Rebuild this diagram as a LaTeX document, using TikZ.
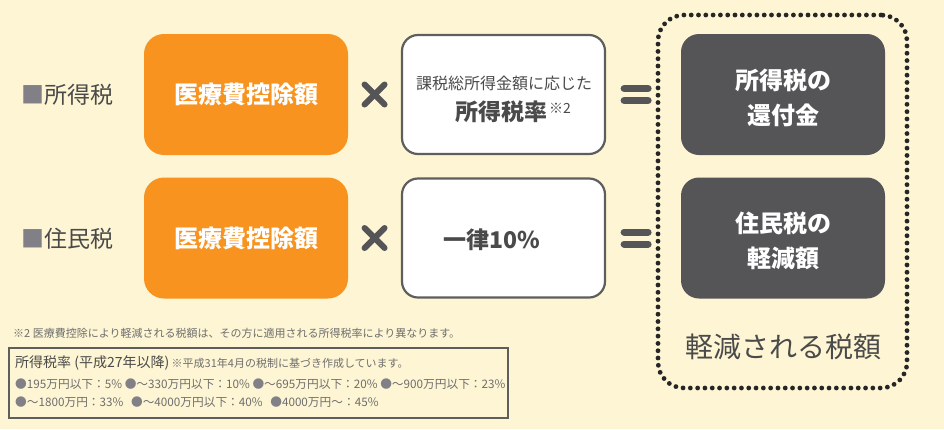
\documentclass[tikz,border=0pt]{standalone}
\usepackage{fontspec}
\setmainfont{Noto Sans CJK JP}
\usetikzlibrary{positioning,calc}
\definecolor{cream}{HTML}{FDF5D3}
\definecolor{orng}{HTML}{F7931E}
\definecolor{darkbox}{HTML}{555558}
\definecolor{txt}{HTML}{4A4A4A}
\definecolor{frame}{HTML}{5E5E5E}
\definecolor{sq}{HTML}{808086}
\definecolor{small}{HTML}{6E6E6E}
\newcommand{\fsz}[1]{\fontsize{#1}{#1}\selectfont}

\begin{document}
\begin{tikzpicture}[x=1pt,y=-1pt]
\tikzstyle{deduct}=[fill=orng,rounded corners=20pt,minimum width=204pt,minimum height=121pt,text=white,font=\fsz{24}\bfseries]
\tikzstyle{rate}=[draw=frame,line width=2.2pt,fill=white,rounded corners=16pt,minimum width=203pt,minimum height=119pt]
\tikzstyle{result}=[fill=darkbox,rounded corners=18pt,minimum width=204pt,minimum height=121pt]
\tikzstyle{resulttext}=[inner sep=0pt,text=white,align=center,font=\fontsize{24}{35}\selectfont\bfseries]
\tikzstyle{sign}=[draw=darkbox,line cap=round]
\tikzstyle{label}=[inner sep=0pt,text=txt]

\fill[cream] (0,0) rectangle (944,429);
\useasboundingbox (0,0) rectangle (944,429);

% rows
\node[label,anchor=west,font=\fsz{23}] (tag1) at (21,95) {\textcolor{sq}{■}所得税};
\node[label,anchor=west,font=\fsz{23}] (tag2) at (21,239) {\textcolor{sq}{■}住民税};

\node[deduct] (ded1) at (246,94.5) {医療費控除額};
\node[deduct] (ded2) at (246,238) {医療費控除額};

\node[rate] (rate1) at (503.5,94.5) {};
\node[rate] (rate2) at (503.5,238) {};
\node[label,font=\fsz{16}] (rate1top) at (504,83) {課税総所得金額に応じた};
\node[label,font=\fsz{23}\bfseries,anchor=west] (rate1main) at (455,112) {所得税率\hspace{2pt}\raisebox{7pt}{\fsz{14}\mdseries ※2}};
\node[label,font=\fsz{23}\bfseries] (rate2main) at (492,240) {一律10\%};

% dotted frame
\node[draw=black!85,line width=4.8pt,dash pattern=on 0pt off 7.3pt,line cap=round,rounded corners=26pt,minimum width=249pt,minimum height=373pt] (frame) at (782.5,201.5) {};
\node[result] (res1) at (783,94.5) {};
\node[result] (res2) at (783,238) {};
\node[resulttext] (res1text) at (783,97.5) {所得税の\\還付金};
\node[resulttext] (res2text) at (783,240.5) {住民税の\\軽減額};
\node[label,font=\fsz{28}] (sum) at (783,347) {軽減される税額};

% signs
\foreach \r in {1,2} {
  \coordinate (x\r) at ($(ded\r.east)!0.5!(rate\r.west)$);
  \draw[sign,line width=6pt] ([shift={(-10,-10)}]x\r) -- ([shift={(10,10)}]x\r);
  \draw[sign,line width=6pt] ([shift={(-10,10)}]x\r) -- ([shift={(10,-10)}]x\r);
  \coordinate (e\r) at ([xshift=30]rate\r.east);
  \draw[sign,line width=7pt] ([shift={(-12,-6)}]e\r) -- ([shift={(12,-6)}]e\r);
  \draw[sign,line width=7pt] ([shift={(-12,6)}]e\r) -- ([shift={(12,6)}]e\r);
}

% notes
\node[label,anchor=west,font=\fsz{11},text=small] (note) at (13,333) {※2 医療費控除により軽減される税額は、その方に適用される所得税率により異なります。};
\node[draw=frame,line width=1.5pt,minimum width=499pt,minimum height=70pt] (table) at (258.5,383) {};
\node[label,anchor=west,font=\fsz{14}] (tabhead) at (15,363) {所得税率 (平成27年以降)};
\node[label,anchor=west,font=\fsz{11},text=small,right=2pt of tabhead] (tabnote) {※平成31年4月の税制に基づき作成しています。};
\node[label,anchor=west,font=\fsz{11.7},text=small] (line1) at (15,384) {\textcolor{sq}{●}195万円以下：5\% \textcolor{sq}{●}～330万円以下：10\% \textcolor{sq}{●}～695万円以下：20\% \textcolor{sq}{●}～900万円以下：23\%};
\node[label,anchor=west,font=\fsz{11.7},text=small] (line2) at (15,402) {\textcolor{sq}{●}～1800万円：33\%\hspace{5pt} \textcolor{sq}{●}～4000万円以下：40\%\hspace{5pt} \textcolor{sq}{●}4000万円～：45\%};
\end{tikzpicture}
\end{document}
